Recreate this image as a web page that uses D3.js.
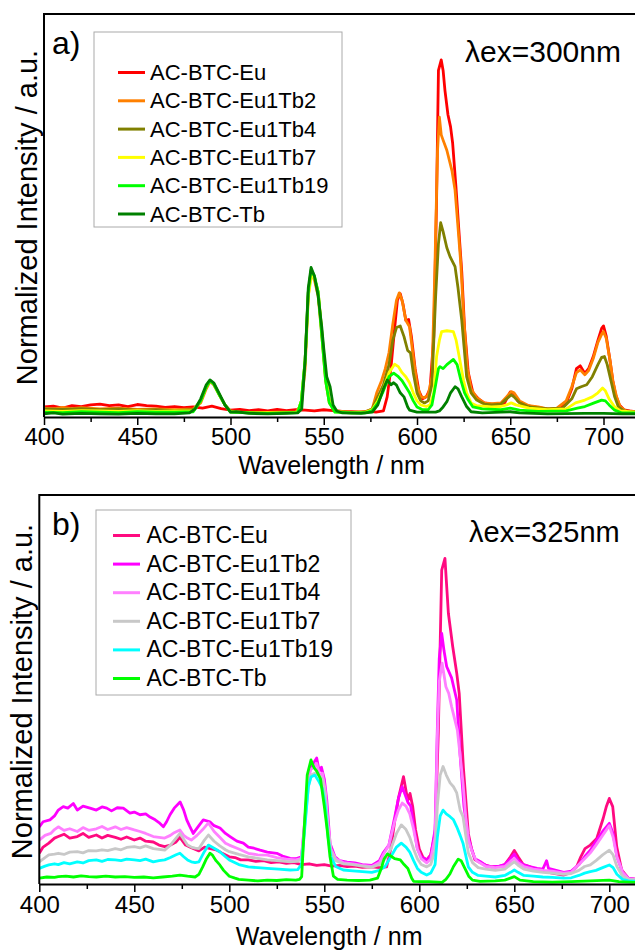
<!DOCTYPE html>
<meta charset="utf-8">
<style>
    body{ margin:0; background:white; }
    svg{ display:block; background:white; }
    text{ font-family: "Liberation Sans", Arial, sans-serif; fill:black; }
    .frame{ stroke:black; stroke-width:2; fill:none; }
    .spec{ fill:none; stroke-width:2.8; stroke-linejoin:round; }
</style>
<svg width="635" height="951"></svg>
<script src="https://d3js.org/d3.v7.min.js"></script>
<script>
// ---- data (wavelength nm, normalized intensity 0..1 of panel height)
var names = ["AC-BTC-Eu", "AC-BTC-Eu1Tb2", "AC-BTC-Eu1Tb4", "AC-BTC-Eu1Tb7", "AC-BTC-Eu1Tb19", "AC-BTC-Tb"];
var colorsA = ["#ff0000", "#ff8000", "#808000", "#ffff00", "#00ff00", "#008000"];
var colorsB = ["#ff0a80", "#ff00ff", "#ff80ff", "#c8c8c8", "#00ffff", "#00ff00"];
var majorTicks = [400, 450, 500, 550, 600, 650, 700];
var minorTicks = [425, 475, 525, 575, 625, 675];

// panel a) lambda ex = 300 nm
var aEu = [[400,.025],[405,.027],[410,.022],[415,.028],[420,.026],[425,.03],[430,.032],[435,.028],[440,.03],[445,.026],[450,.031],[455,.028],[460,.027],[465,.024],[470,.026],[475,.023],[480,.025],[485,.022],[490,.027],[495,.021],[500,.017],[505,.019],[510,.016],[515,.018],[520,.015],[525,.019],[530,.016],[535,.018],[540,.017],[545,.015],[550,.018],[555,.016],[560,.014],[565,.013],[570,.012],[575,.014],[578,.012],[582,.015],[584,.05],[586,.12],[588,.22],[589.5,.29],[591,.306],[592.5,.28],[594,.24],[595.5,.242],[597,.2],[599,.12],[601,.065],[603,.045],[605,.05],[607,.07],[609,.2],[610.5,.54],[611.5,.86],[613,.886],[614,.86],[615,.81],[616.6,.75],[618,.72],[619.1,.68],[620.9,.57],[622.2,.48],[624,.36],[625.5,.22],[627.5,.11],[630,.06],[633,.045],[636,.035],[640,.032],[644,.028],[647,.035],[650,.062],[652,.058],[654,.04],[657,.03],[662,.026],[667,.022],[672,.018],[676,.02],[680,.035],[683,.07],[685.5,.12],[687.5,.127],[690,.108],[692,.12],[694.5,.15],[697,.19],[699,.22],[700,.226],[701.5,.2],[703.5,.14],[705,.09],[706.5,.055],[708.5,.03],[711,.018],[714,.015],[717,.013]];
var aEu1Tb2 = [[400,.022],[405,.02],[410,.024],[415,.021],[420,.023],[430,.02],[440,.022],[450,.019],[460,.02],[470,.018],[480,.02],[484,.035],[487,.07],[489,.088],[491,.08],[494,.055],[497,.03],[500,.015],[505,.012],[515,.011],[525,.012],[535,.012],[538,.03],[540,.12],[541.7,.3],[543.2,.36],[545,.34],[547,.3],[549,.2],[551,.09],[553,.035],[556,.015],[565,.012],[572,.013],[576,.02],[578.4,.06],[581,.09],[583,.12],[585,.16],[587,.23],[589,.29],[590.5,.308],[592,.29],[594,.24],[596,.224],[598,.15],[600,.08],[602,.05],[604,.048],[606,.055],[608,.1],[609.5,.35],[611,.66],[612,.744],[613,.70],[614,.687],[616,.662],[618.8,.61],[620.4,.563],[622,.47],[623.5,.38],[625,.25],[627,.12],[629,.07],[632,.048],[636,.035],[640,.033],[645,.035],[648,.05],[650.5,.063],[652,.06],[655,.04],[660,.028],[665,.025],[670,.02],[675,.022],[680,.04],[683,.075],[685.5,.11],[687.5,.117],[690,.105],[692,.115],[694.5,.145],[697,.185],[699,.205],[700,.212],[701.5,.195],[703.5,.14],[705,.09],[707,.05],[709,.025],[712,.015],[717,.013]];
var aEu1Tb4 = [[400,.02],[410,.019],[420,.021],[430,.018],[440,.02],[450,.017],[460,.018],[470,.016],[480,.018],[484,.04],[487,.075],[489,.09],[491,.082],[494,.055],[497,.03],[500,.014],[510,.011],[520,.01],[530,.011],[536,.012],[538,.04],[540,.14],[541.7,.31],[543.2,.36],[545,.345],[547,.31],[549,.21],[551,.1],[553,.04],[556,.014],[565,.011],[572,.012],[576,.02],[579,.05],[582,.08],[585,.13],[587,.19],[589,.222],[591,.226],[593,.2],[595,.165],[596.5,.159],[598,.11],[600,.06],[602,.04],[604,.035],[606,.04],[608,.08],[610,.3],[611.5,.43],[612.7,.482],[614,.46],[616,.42],[617.7,.398],[620.4,.373],[622,.32],[624,.24],[625.5,.16],[626.6,.10],[629,.06],[632,.042],[636,.032],[640,.03],[645,.032],[648,.045],[650.5,.055],[652,.05],[655,.035],[660,.025],[670,.02],[678,.022],[683,.045],[685.5,.07],[688,.075],[691,.08],[694,.1],[697,.13],[699,.148],[700.5,.15],[702,.13],[704,.09],[706,.05],[708,.025],[711,.015],[717,.012]];
var aEu1Tb7 = [[400,.015],[410,.014],[420,.016],[430,.015],[440,.014],[450,.016],[460,.014],[470,.015],[480,.016],[484,.04],[487,.075],[489,.09],[491,.082],[494,.055],[497,.03],[500,.013],[510,.01],[520,.011],[530,.01],[536,.012],[538,.04],[540,.14],[541.7,.3],[543.5,.352],[545,.345],[547,.31],[549,.21],[551,.1],[553,.04],[556,.013],[565,.01],[572,.011],[576,.018],[579,.04],[582,.07],[585,.11],[588,.131],[590,.125],[592,.11],[594,.1],[596,.085],[598,.06],[600,.04],[602,.03],[605,.026],[607,.03],[609,.06],[610.5,.15],[612,.19],[613.2,.212],[616,.214],[619.5,.212],[621,.19],[623,.141],[625,.09],[626.6,.06],[629,.035],[632,.028],[640,.025],[645,.026],[648,.03],[650.5,.035],[653,.03],[660,.022],[670,.018],[680,.02],[685,.035],[690,.042],[694,.05],[697,.06],[699.5,.072],[701,.065],[703,.045],[706,.025],[709,.015],[717,.012]];
var aEu1Tb19 = [[400,.012],[410,.011],[420,.013],[430,.012],[440,.011],[450,.013],[460,.012],[470,.012],[480,.013],[484,.04],[487,.075],[489,.09],[491,.082],[494,.055],[497,.03],[500,.012],[510,.01],[520,.009],[530,.01],[536,.011],[538,.04],[540,.14],[541.7,.31],[543.2,.365],[545,.35],[547,.31],[549,.2],[551,.09],[553,.035],[556,.012],[565,.01],[572,.01],[576,.016],[579,.035],[582,.065],[585,.1],[587.5,.109],[590,.1],[592,.09],[594,.075],[596,.06],[598,.04],[600,.025],[603,.018],[606,.018],[608,.03],[610,.08],[611.5,.12],[612.3,.125],[614,.12],[616,.13],[619.5,.143],[621.5,.13],[623.5,.092],[625.5,.06],[627.5,.042],[630,.025],[635,.02],[645,.018],[650,.022],[655,.017],[665,.014],[680,.015],[686,.022],[690,.026],[695,.035],[699,.042],[701,.04],[703,.03],[706,.017],[710,.01],[717,.01]];
var aTb = [[400,.008],[405,.01],[410,.007],[420,.009],[430,.008],[440,.007],[450,.009],[460,.008],[470,.008],[478,.01],[481,.02],[484,.045],[487,.08],[489,.092],[491,.085],[494,.058],[497,.03],[500,.012],[503,.013],[510,.009],[520,.008],[530,.009],[536,.01],[538.2,.02],[540,.14],[541.7,.32],[543.2,.371],[545,.35],[547,.3],[548.9,.225],[550,.17],[551.6,.1],[553.4,.075],[555,.03],[557,.015],[560,.01],[570,.009],[576,.012],[579,.03],[582,.07],[584,.092],[586,.08],[587.5,.085],[589,.079],[591,.06],[593,.05],[595,.025],[596,.017],[600,.012],[605,.012],[610,.012],[612,.015],[614,.025],[616,.038],[618,.06],[620.4,.075],[622,.07],[624,.05],[626.6,.026],[629,.013],[635,.01],[645,.012],[650,.013],[655,.01],[670,.008],[690,.009],[700,.009],[710,.008],[717,.008]];

// panel b) lambda ex = 325 nm
var bEu = [[400,.079],[402,.095],[405,.105],[408,.118],[410,.122],[413,.128],[416,.118],[420,.122],[423,.13],[426,.12],[430,.126],[433,.118],[436,.125],[440,.12],[443,.115],[446,.121],[450,.113],[453,.118],[456,.11],[460,.108],[463,.1],[466,.096],[469,.1],[472,.108],[474,.12],[477,.1],[480,.093],[484,.085],[487,.095],[490,.091],[493,.088],[496,.08],[500,.07],[503,.068],[506,.062],[510,.062],[514,.058],[518,.06],[522,.055],[526,.057],[530,.053],[534,.055],[538,.05],[542,.052],[546,.048],[550,.05],[554,.046],[558,.048],[562,.045],[566,.046],[570,.043],[575,.044],[579,.042],[582.8,.044],[585,.09],[587,.16],[589,.22],[591.7,.276],[593,.24],[594,.215],[595.1,.233],[596.5,.2],[598,.14],[600,.09],[602,.068],[603.9,.062],[606,.075],[608.3,.13],[610,.388],[611.8,.807],[613.5,.837],[615.3,.696],[617.6,.61],[619.7,.542],[621,.49],[623.2,.3],[625.8,.13],[627.5,.09],[629.3,.062],[632,.055],[635,.048],[638,.044],[642,.045],[645,.05],[648,.07],[650,.086],[652,.07],[654.7,.05],[658,.045],[662,.035],[666,.032],[670,.028],[675.8,.023],[680,.03],[682.8,.044],[685,.07],[687.2,.091],[690,.1],[693.4,.117],[696.8,.169],[698.5,.2],[700,.22],[701.8,.199],[703.9,.096],[706.5,.036],[710,.015],[714,.012]];
var bEu1Tb2 = [[400,.147],[402,.16],[405.6,.165],[408,.175],[410,.19],[412.6,.199],[415,.195],[417.9,.207],[420,.19],[423,.2],[426.7,.195],[430,.19],[433,.198],[435.5,.195],[438,.188],[441,.196],[444.2,.195],[447.7,.182],[450,.185],[453,.178],[456,.18],[458.3,.172],[461,.165],[463,.158],[465.3,.147],[467,.16],[468.8,.178],[471,.195],[474.1,.211],[476,.19],[477.6,.165],[479,.15],[481,.13],[484,.15],[486.3,.165],[489.8,.16],[492,.15],[495.1,.144],[498,.13],[500.4,.122],[504,.11],[507.4,.105],[510,.095],[513,.092],[516.2,.087],[520,.082],[525,.079],[528,.072],[532,.066],[535,.065],[538,.07],[539.5,.15],[541.6,.28],[543,.3],[544.2,.31],[546,.324],[547.3,.29],[548.5,.3],[550,.27],[551.3,.216],[553,.105],[555.6,.07],[558,.06],[562,.056],[566,.054],[570,.05],[575,.048],[579,.06],[581,.08],[584,.1],[587,.17],[589,.22],[591,.25],[592.5,.23],[594,.21],[595.5,.2],[597,.15],[599,.09],[601,.07],[603.9,.062],[606,.072],[608.3,.14],[609.5,.4],[610.5,.58],[611.8,.644],[613,.6],[614.4,.559],[617,.53],[619.7,.473],[621.5,.33],[623.5,.2],[625.8,.12],[627.5,.09],[629.3,.065],[632,.058],[635,.048],[638,.044],[642,.046],[645,.05],[648,.065],[650,.077],[652,.06],[654.7,.05],[658,.045],[662,.04],[665,.038],[667,.06],[668,.04],[672,.035],[676,.03],[680,.033],[684,.05],[687,.07],[690,.087],[693,.11],[696.5,.135],[700,.156],[702,.13],[704,.07],[707,.03],[710,.015],[714,.012]];
var bEu1Tb4 = [[400,.113],[403,.125],[406,.13],[408,.14],[410,.147],[413,.138],[416,.142],[420,.135],[423,.145],[426,.138],[430,.142],[433,.148],[436,.14],[440,.147],[443,.14],[446,.145],[450,.139],[453,.135],[456,.13],[460,.122],[463,.12],[466,.118],[469,.125],[471,.132],[474,.139],[476,.125],[478,.118],[480,.113],[483,.125],[486,.14],[489,.157],[492,.135],[495,.12],[498,.105],[500,.1],[505,.09],[510,.079],[515,.075],[520,.074],[525,.068],[530,.064],[535,.062],[538,.066],[539.5,.14],[541.6,.27],[543,.295],[544.5,.3],[546,.31],[547.5,.28],[549,.285],[550.5,.24],[552,.15],[553.5,.09],[556,.065],[560,.055],[565,.052],[570,.048],[575,.045],[579,.055],[581,.075],[584,.1],[587,.16],[589,.19],[591,.208],[593,.2],[595,.18],[597,.14],[599,.09],[601,.065],[603.9,.054],[606,.064],[608.3,.12],[609.5,.38],[610.5,.52],[612,.568],[614,.507],[615.5,.49],[617,.456],[620,.396],[621.5,.33],[623,.26],[624.5,.17],[626,.11],[628,.08],[630,.06],[635,.045],[640,.042],[645,.045],[648,.058],[650,.066],[652,.055],[655,.045],[660,.038],[665,.035],[670,.033],[676,.028],[680,.03],[684,.05],[687,.065],[690,.08],[693,.1],[696.5,.125],[700,.15],[702,.12],[704,.07],[707,.03],[710,.014],[714,.012]];
var bEu1Tb7 = [[400,.057],[403,.068],[405,.075],[408,.077],[410,.079],[413,.076],[416,.082],[420,.083],[423,.08],[426,.086],[430,.085],[433,.088],[436,.086],[440,.091],[443,.088],[446,.094],[450,.096],[453,.093],[456,.098],[460,.091],[463,.089],[466,.087],[469,.1],[472,.118],[474,.13],[476,.115],[478,.1],[480,.095],[482,.092],[484,.091],[486.5,.11],[489,.126],[492,.11],[495,.098],[498,.088],[500,.083],[505,.076],[510,.07],[515,.066],[520,.062],[525,.06],[532,.057],[536,.058],[538,.065],[539.5,.14],[541.6,.25],[543,.28],[545,.285],[547,.28],[549,.27],[550.5,.23],[552,.14],[553.5,.085],[556,.06],[560,.052],[565,.05],[570,.046],[575,.043],[579,.05],[582,.065],[585,.09],[588,.13],[590.5,.152],[593,.14],[595,.12],[597,.09],[599,.065],[601,.05],[603.9,.044],[606,.05],[608.3,.085],[609.5,.2],[611,.28],[612.5,.302],[614.2,.28],[616.2,.26],[618,.25],[619.7,.234],[621.5,.19],[623,.173],[625.8,.08],[628,.055],[631,.042],[635,.038],[640,.035],[645,.038],[648,.05],[650,.057],[652,.048],[655,.038],[660,.033],[665,.03],[670,.028],[676,.025],[680,.027],[684,.035],[687,.045],[690,.049],[693,.06],[696.5,.075],[700,.087],[702,.075],[704,.045],[707,.02],[710,.012],[714,.01]];
var bEu1Tb19 = [[400,.04],[403,.046],[405,.049],[408,.052],[410,.05],[413,.055],[416,.052],[420,.057],[423,.054],[426,.06],[430,.062],[433,.058],[436,.063],[440,.062],[443,.06],[446,.064],[450,.062],[453,.06],[456,.064],[460,.057],[463,.06],[466,.062],[469,.068],[472,.075],[474,.079],[476,.07],[478,.062],[480,.057],[482,.055],[484,.057],[486.5,.08],[489,.1],[492,.092],[495,.083],[498,.07],[500,.062],[505,.05],[510,.044],[515,.042],[520,.04],[526,.038],[532,.036],[536,.037],[538,.05],[539.5,.13],[541.6,.25],[543,.275],[545,.28],[547,.265],[549,.245],[550.5,.2],[552,.12],[553.5,.07],[556,.045],[560,.036],[565,.034],[570,.032],[575,.03],[579,.035],[582,.045],[585,.07],[588,.095],[590.5,.105],[593,.095],[595,.082],[597,.06],[599,.04],[601,.03],[603.9,.023],[606,.028],[608.3,.05],[609.5,.12],[611,.175],[612.5,.19],[614.2,.18],[616.2,.173],[618,.165],[619.7,.147],[621.5,.125],[623,.105],[625.8,.044],[628,.03],[631,.022],[635,.02],[640,.018],[645,.022],[648,.03],[650,.036],[652,.03],[655,.022],[660,.02],[665,.018],[670,.017],[676,.015],[680,.016],[684,.022],[687,.028],[690,.032],[693,.035],[696.5,.042],[700,.049],[702,.042],[704,.025],[707,.012],[710,.008],[714,.007]];
var bTb = [[400,.015],[404,.018],[408,.017],[410,.019],[414,.02],[418,.018],[422,.021],[426,.019],[430,.018],[435,.02],[440,.018],[445,.019],[450,.017],[455,.018],[460,.016],[465,.018],[470,.02],[474,.023],[478,.02],[482,.018],[484,.025],[486,.044],[488,.065],[489.8,.079],[491,.075],[493,.06],[495,.049],[497,.035],[500,.02],[503,.015],[505,.012],[510,.01],[515,.008],[520,.01],[525,.009],[530,.011],[535,.01],[537,.012],[538.1,.019],[539.5,.15],[541,.28],[543,.319],[544.5,.3],[546,.29],[548,.27],[550,.2],[551.5,.14],[553,.07],[554.8,.02],[557,.012],[562,.01],[568,.009],[574,.01],[578,.015],[580,.04],[581.5,.065],[583.2,.077],[585,.072],[587,.065],[590,.062],[592,.05],[594,.04],[596,.015],[597,.007],[600,.006],[605,.006],[610,.005],[612,.004],[614,.012],[616,.025],[618,.045],[620.5,.064],[622,.06],[624,.04],[626,.02],[628,.01],[632,.007],[640,.008],[645,.01],[650,.019],[653,.01],[660,.006],[670,.005],[680,.006],[690,.008],[700,.01],[705,.006],[714,.004]];

var svg = d3.select("svg");

var panels = [
    {label: "a)", ex: "\u03bbex=300nm", series: [aEu, aEu1Tb2, aEu1Tb4, aEu1Tb7, aEu1Tb19, aTb], colors: colorsA,
     x0: 44, xEnd: 717, pxPerNm: 1.865, top: 14, bottom: 417,
     labelPos: [52, 54], exPos: [465, 62], exSize: 30,
     legend: {x: 94, y: 32, w: 248, h: 195, lx0: 118, lx1: 145, tx: 150, y0: 80, step: 28.3, size: 22},
     yTitleX: 37, tickBase: 445, titleBase: 474},
    {label: "b)", ex: "\u03bbex=325nm", series: [bEu, bEu1Tb2, bEu1Tb4, bEu1Tb7, bEu1Tb19, bTb], colors: colorsB,
     x0: 39.3, xEnd: 714, pxPerNm: 1.9, top: 495, bottom: 884,
     labelPos: [52, 535], exPos: [469, 542], exSize: 29,
     legend: {x: 96, y: 510, w: 255, h: 185, lx0: 113, lx1: 140, tx: 146.5, y0: 543, step: 28.6, size: 23},
     yTitleX: 32, tickBase: 913, titleBase: 945}
];

panels.forEach(function (p, i) {
    var x = d3.scaleLinear().domain([400, p.xEnd]).range([p.x0, p.x0 + (p.xEnd - 400) * p.pxPerNm]);
    var y = d3.scaleLinear().domain([0, 1]).range([p.bottom, p.top]);
    var g = svg.append("g");

    g.append("clipPath").attr("id", "clip" + i)
        .append("rect").attr("x", p.x0).attr("y", p.top).attr("width", 640).attr("height", p.bottom - p.top);

    var line = d3.line().x(function (d) { return x(d[0]); }).y(function (d) { return y(d[1]); });

    g.append("g").attr("clip-path", "url(#clip" + i + ")")
        .selectAll("path").data(p.series).enter().append("path")
        .attr("class", "spec")
        .attr("d", line)
        .attr("stroke", function (d, j) { return p.colors[j]; });

    // frame: left and top only, the right side runs off the picture
    g.append("path").attr("class", "frame")
        .attr("d", "M" + p.x0 + "," + p.bottom + "V" + p.top + "H640");

    // bottom axis with major and minor ticks
    var ax = g.append("g").attr("transform", "translate(0," + p.bottom + ")")
        .call(d3.axisBottom(x).tickValues(majorTicks).tickSize(8).tickSizeOuter(0).tickFormat(d3.format("d")));
    ax.select(".domain").attr("stroke-width", 2);
    ax.selectAll(".tick line").attr("stroke-width", 1.5);
    ax.selectAll(".tick text").attr("y", p.tickBase - p.bottom).attr("dy", 0)
        .style("font-size", "24px").attr("fill", "black");
    g.append("g").attr("transform", "translate(0," + p.bottom + ")")
        .call(d3.axisBottom(x).tickValues(minorTicks).tickSize(5).tickFormat(""))
        .call(function (s) { s.select(".domain").remove(); s.selectAll("line").attr("stroke-width", 1.5); });

    g.append("text").attr("x", (p.x0 + 635) / 2 - 8).attr("y", p.titleBase)
        .attr("text-anchor", "middle").style("font-size", "25px").text("Wavelength / nm");

    g.append("text")
        .attr("transform", "translate(" + p.yTitleX + "," + ((p.top + p.bottom) / 2 + 2) + ") rotate(-90)")
        .attr("text-anchor", "middle").style("font-size", "29px").text("Normalized Intensity / a.u.");

    g.append("text").attr("x", p.labelPos[0]).attr("y", p.labelPos[1]).style("font-size", "32px").text(p.label);
    g.append("text").attr("x", p.exPos[0]).attr("y", p.exPos[1]).style("font-size", p.exSize + "px").text(p.ex);

    // legend
    var L = p.legend;
    g.append("rect").attr("x", L.x).attr("y", L.y).attr("width", L.w).attr("height", L.h)
        .attr("fill", "white").attr("stroke", "#aaaaaa").attr("stroke-width", 1);
    var item = g.selectAll(".leg").data(names).enter().append("g")
        .attr("transform", function (d, j) { return "translate(0," + (L.y0 + j * L.step) + ")"; });
    item.append("line").attr("x1", L.lx0).attr("x2", L.lx1).attr("y1", -7.5).attr("y2", -7.5)
        .attr("stroke", function (d, j) { return p.colors[j]; }).attr("stroke-width", 3);
    item.append("text").attr("x", L.tx).attr("y", 0).style("font-size", L.size + "px").text(function (d) { return d; });
});
</script>
